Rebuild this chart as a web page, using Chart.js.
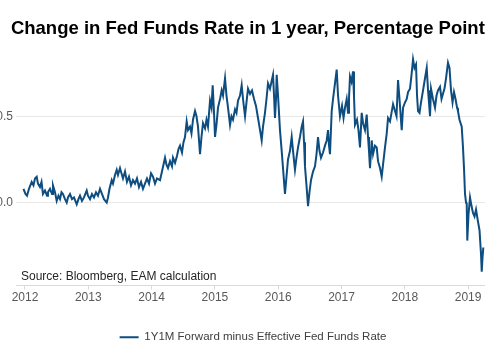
<!DOCTYPE html>
<html>
<head>
<meta charset="utf-8">
<script src="https://cdn.jsdelivr.net/npm/chart.js@4.4.1/dist/chart.umd.min.js"></script>
<style>
  html, body { margin: 0; padding: 0; background: #fff; overflow: hidden; width: 485px; height: 360px; }
  #chart { position: absolute; left: -12px; top: 0; }
</style>
</head>
<body>
<canvas id="chart" width="530" height="360"></canvas>
<script>
// decimal years
const years = [
  2011.976, 2012.008, 2012.032, 2012.063, 2012.106, 2012.134, 2012.158, 2012.185, 2012.205, 2012.237,
  2012.261, 2012.284, 2012.316, 2012.348, 2012.363, 2012.395, 2012.427, 2012.442, 2012.474, 2012.501,
  2012.529, 2012.553, 2012.577, 2012.600, 2012.632, 2012.659, 2012.679, 2012.711, 2012.742, 2012.774,
  2012.817, 2012.845, 2012.869, 2012.900, 2012.932, 2012.975, 2012.995, 2013.027, 2013.058, 2013.090,
  2013.122, 2013.153, 2013.185, 2013.216, 2013.248, 2013.291, 2013.311, 2013.335, 2013.370, 2013.390,
  2013.422, 2013.449, 2013.469, 2013.501, 2013.524, 2013.548, 2013.580, 2013.611, 2013.643, 2013.675,
  2013.706, 2013.738, 2013.769, 2013.801, 2013.833, 2013.864, 2013.896, 2013.927, 2013.959, 2013.991,
  2014.022, 2014.054, 2014.085, 2014.133, 2014.164, 2014.212, 2014.235, 2014.259, 2014.291, 2014.322,
  2014.338, 2014.370, 2014.401, 2014.425, 2014.449, 2014.480, 2014.504, 2014.528, 2014.554, 2014.575,
  2014.607, 2014.630, 2014.654, 2014.686, 2014.709, 2014.733, 2014.749, 2014.765, 2014.788, 2014.812,
  2014.844, 2014.867, 2014.891, 2014.923, 2014.946, 2014.965, 2014.986, 2015.002, 2015.025, 2015.049,
  2015.081, 2015.107, 2015.128, 2015.160, 2015.183, 2015.207, 2015.239, 2015.262, 2015.286, 2015.318,
  2015.341, 2015.365, 2015.397, 2015.423, 2015.444, 2015.476, 2015.499, 2015.523, 2015.555, 2015.586,
  2015.618, 2015.649, 2015.681, 2015.713, 2015.739, 2015.760, 2015.791, 2015.815, 2015.839, 2015.870,
  2015.894, 2015.918, 2015.934, 2015.949, 2015.965, 2015.976, 2015.997, 2016.028, 2016.055, 2016.076,
  2016.107, 2016.131, 2016.155, 2016.186, 2016.213, 2016.234, 2016.265, 2016.289, 2016.313, 2016.344,
  2016.371, 2016.392, 2016.408, 2016.423, 2016.447, 2016.471, 2016.494, 2016.518, 2016.550, 2016.581,
  2016.605, 2016.629, 2016.652, 2016.676, 2016.708, 2016.739, 2016.766, 2016.787, 2016.803, 2016.818,
  2016.845, 2016.866, 2016.897, 2016.924, 2016.945, 2016.976, 2017.008, 2017.032, 2017.055, 2017.082,
  2017.103, 2017.118, 2017.134, 2017.158, 2017.182, 2017.197, 2017.213, 2017.245, 2017.268, 2017.292,
  2017.319, 2017.340, 2017.371, 2017.398, 2017.419, 2017.434, 2017.450, 2017.477, 2017.498, 2017.529,
  2017.556, 2017.577, 2017.608, 2017.635, 2017.656, 2017.687, 2017.714, 2017.735, 2017.766, 2017.790,
  2017.814, 2017.845, 2017.869, 2017.893, 2017.916, 2017.951, 2017.972, 2018.003, 2018.030, 2018.051,
  2018.082, 2018.106, 2018.130, 2018.153, 2018.177, 2018.193, 2018.209, 2018.232, 2018.256, 2018.288,
  2018.319, 2018.346, 2018.367, 2018.382, 2018.398, 2018.414, 2018.445, 2018.477, 2018.501, 2018.524,
  2018.556, 2018.580, 2018.603, 2018.627, 2018.651, 2018.682, 2018.706, 2018.730, 2018.754, 2018.777,
  2018.801, 2018.825, 2018.840, 2018.864, 2018.899, 2018.919, 2018.935, 2018.951, 2018.967, 2018.978,
  2018.987, 2019.006, 2019.030, 2019.054, 2019.077, 2019.101, 2019.125, 2019.156, 2019.180, 2019.204,
  2019.215, 2019.227, 2019.240
];

// 1Y1M forward minus effective fed funds rate, percentage points
const spread = [
  0.08, 0.05, 0.04, 0.08, 0.12, 0.10, 0.14, 0.15, 0.11, 0.09,
  0.12, 0.05, 0.07, 0.04, 0.06, 0.08, 0.05, 0.10, 0.06, 0.01,
  0.04, 0.02, 0.06, 0.05, 0.02, 0.00, 0.03, 0.05, 0.02, 0.03,
  -0.01, 0.02, 0.04, 0.01, 0.03, 0.07, 0.04, 0.02, 0.05, 0.03,
  0.06, 0.04, 0.08, 0.05, 0.02, 0.00, 0.03, 0.08, 0.13, 0.11,
  0.16, 0.19, 0.16, 0.20, 0.17, 0.14, 0.18, 0.12, 0.15, 0.10,
  0.13, 0.11, 0.14, 0.09, 0.12, 0.08, 0.11, 0.14, 0.11, 0.17,
  0.15, 0.11, 0.14, 0.13, 0.18, 0.26, 0.22, 0.20, 0.24, 0.21,
  0.26, 0.23, 0.27, 0.31, 0.33, 0.29, 0.35, 0.38, 0.47, 0.42,
  0.44, 0.40, 0.48, 0.53, 0.50, 0.44, 0.36, 0.28, 0.38, 0.46,
  0.43, 0.48, 0.44, 0.59, 0.55, 0.68, 0.52, 0.38, 0.45, 0.55,
  0.60, 0.65, 0.62, 0.72, 0.62, 0.55, 0.45, 0.50, 0.48, 0.54,
  0.52, 0.59, 0.62, 0.68, 0.60, 0.50, 0.58, 0.66, 0.63, 0.65,
  0.60, 0.56, 0.49, 0.42, 0.36, 0.44, 0.52, 0.60, 0.69, 0.66,
  0.70, 0.74, 0.62, 0.49, 0.60, 0.74, 0.62, 0.42, 0.30, 0.20,
  0.05, 0.15, 0.25, 0.30, 0.38, 0.30, 0.19, 0.26, 0.32, 0.38,
  0.44, 0.47, 0.35, 0.21, 0.10, -0.02, 0.06, 0.13, 0.18, 0.21,
  0.28, 0.38, 0.30, 0.26, 0.29, 0.33, 0.36, 0.42, 0.33, 0.28,
  0.53, 0.60, 0.69, 0.77, 0.62, 0.50, 0.56, 0.49, 0.55, 0.60,
  0.52, 0.60, 0.73, 0.70, 0.76, 0.62, 0.45, 0.48, 0.42, 0.32,
  0.52, 0.46, 0.42, 0.51, 0.38, 0.30, 0.20, 0.36, 0.28, 0.33,
  0.32, 0.24, 0.20, 0.15, 0.22, 0.32, 0.40, 0.49, 0.47, 0.52,
  0.57, 0.53, 0.50, 0.71, 0.60, 0.42, 0.55, 0.58, 0.60, 0.64,
  0.66, 0.74, 0.83, 0.78, 0.80, 0.62, 0.53, 0.52, 0.58, 0.65,
  0.72, 0.78, 0.65, 0.58, 0.50, 0.66, 0.60, 0.55, 0.62, 0.65,
  0.67, 0.60, 0.63, 0.66, 0.72, 0.81, 0.78, 0.65, 0.58, 0.64,
  0.60, 0.55, 0.53, 0.48, 0.44, 0.32, 0.20, 0.05, 0.00, -0.01,
  -0.22, -0.07, 0.03, -0.02, -0.06, -0.08, -0.04, -0.11, -0.16, -0.30,
  -0.40, -0.32, -0.26
];

const yearTicks = [2012, 2013, 2014, 2015, 2016, 2017, 2018, 2019];
const valueTicks = [0.0, 0.5];

const titleText = 'Change in Fed Funds Rate in 1 year, Percentage Points';
const seriesName = '1Y1M Forward minus Effective Fed Funds Rate';
const sourceText = 'Source: Bloomberg, EAM calculation';

const points = years.map((yr, i) => ({ x: yr, y: spread[i] }));

// source note sits inside the plot, bottom left
const sourceNote = {
  id: 'sourceNote',
  afterDatasetsDraw(chart) {
    const { ctx, chartArea } = chart;
    ctx.save();
    ctx.font = '12px Arial, "Liberation Sans", sans-serif';
    ctx.fillStyle = '#262626';
    ctx.textAlign = 'left';
    ctx.textBaseline = 'alphabetic';
    ctx.fillText(sourceText, chartArea.left + 5, chartArea.bottom - 6);
    ctx.restore();
  }
};

const ctx = document.getElementById('chart').getContext('2d');

new Chart(ctx, {
  type: 'line',
  data: {
    datasets: [{
      label: seriesName,
      data: points,
      borderColor: '#0e4d7f',
      backgroundColor: '#0e4d7f',
      borderWidth: 2,
      pointRadius: 0,
      tension: 0,
      fill: false
    }]
  },
  options: {
    responsive: false,
    animation: false,
    devicePixelRatio: 1,
    layout: { padding: { left: 0, right: 0, top: 0, bottom: 7 } },
    plugins: {
      title: {
        display: true,
        text: titleText,
        color: '#000',
        font: { family: 'Arial, "Liberation Sans", sans-serif', size: 18.5, weight: 'bold' },
        padding: { top: 18, bottom: 7 }
      },
      legend: {
        position: 'bottom',
        labels: {
          color: '#404040',
          font: { family: 'Arial, "Liberation Sans", sans-serif', size: 11.5 },
          usePointStyle: true,
          pointStyle: 'line',
          pointStyleWidth: 19,
          padding: 10
        }
      },
      tooltip: { enabled: false }
    },
    scales: {
      x: {
        type: 'linear',
        min: 2011.858,
        max: 2019.788,
        afterBuildTicks(scale) {
          scale.ticks = yearTicks.map(v => ({ value: v }));
        },
        afterFit(scale) { scale.height = 36; },
        ticks: {
          color: '#595959',
          font: { family: 'Arial, "Liberation Sans", sans-serif', size: 12 },
          padding: 1,
          maxRotation: 0,
          callback: v => String(v)
        },
        grid: {
          drawOnChartArea: false,
          drawTicks: true,
          tickLength: 4,
          tickColor: '#d9d9d9'
        },
        border: { display: true, color: '#d9d9d9', width: 1 }
      },
      y: {
        min: -0.48,
        max: 0.9,
        afterBuildTicks(scale) {
          scale.ticks = valueTicks.map(v => ({ value: v }));
        },
        afterFit(scale) { scale.width = 28; },
        ticks: {
          color: '#595959',
          font: { family: 'Arial, "Liberation Sans", sans-serif', size: 12 },
          padding: 3,
          callback: v => v.toFixed(1)
        },
        grid: {
          color: '#e8e8e8',
          lineWidth: 1,
          drawTicks: false
        },
        border: { display: false }
      }
    }
  },
  plugins: [sourceNote]
});
</script>
</body>
</html>
